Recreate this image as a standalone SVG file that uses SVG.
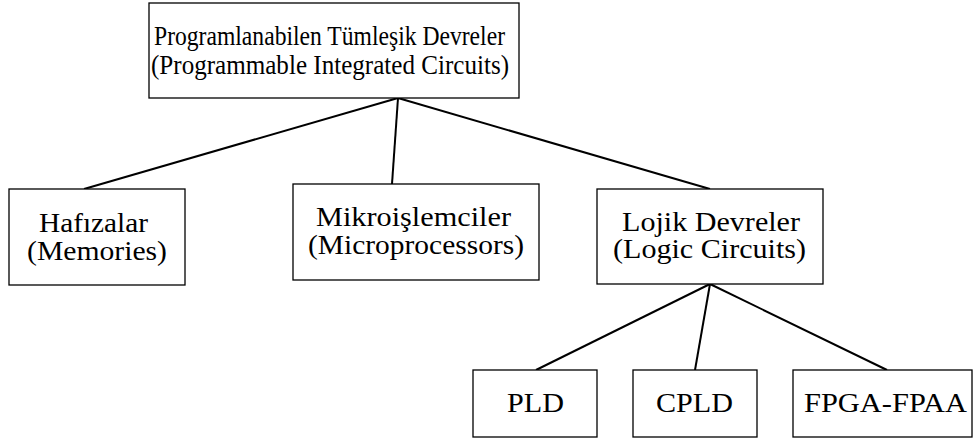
<svg xmlns="http://www.w3.org/2000/svg" width="974" height="440" viewBox="0 0 974 440">
<style>
rect{fill:#fff;stroke:#000;stroke-width:1.3}
text{font-family:'Liberation Serif','Times New Roman',serif;font-size:27px;fill:#000;text-anchor:middle}
.c line{stroke:#000;stroke-width:2}
</style>
<rect x="0" y="0" width="974" height="440" style="stroke:none"/>
<g class="c" id="connectors">
<line x1="398" y1="98" x2="84" y2="189"/>
<line x1="398" y1="98" x2="392" y2="184"/>
<line x1="398" y1="98" x2="710" y2="189"/>
<line x1="710" y1="284" x2="536" y2="370"/>
<line x1="710" y1="284" x2="695" y2="370"/>
<line x1="710" y1="284" x2="887" y2="370"/>
</g>
<g id="root"><rect x="149" y="3" width="370" height="95"/><text x="329.5" y="45" textLength="351" lengthAdjust="spacingAndGlyphs">Programlanabilen Tümleşik Devreler</text><text x="330" y="74" textLength="358" lengthAdjust="spacingAndGlyphs">(Programmable Integrated Circuits)</text></g>
<g id="memories"><rect x="9" y="189" width="176" height="96"/><text x="93.5" y="232" textLength="109" lengthAdjust="spacingAndGlyphs">Hafızalar</text><text x="97" y="260" textLength="140" lengthAdjust="spacingAndGlyphs">(Memories)</text></g>
<g id="micro"><rect x="293" y="184" width="246" height="96"/><text x="413.5" y="226" textLength="195" lengthAdjust="spacingAndGlyphs">Mikroişlemciler</text><text x="416" y="254" textLength="216" lengthAdjust="spacingAndGlyphs">(Microprocessors)</text></g>
<g id="logic"><rect x="597" y="189" width="226" height="95"/><text x="711" y="231" textLength="178" lengthAdjust="spacingAndGlyphs">Lojik Devreler</text><text x="709.5" y="258" textLength="193" lengthAdjust="spacingAndGlyphs">(Logic Circuits)</text></g>
<g id="pld"><rect x="473" y="370" width="124" height="67"/><text x="535.5" y="412" textLength="57" lengthAdjust="spacingAndGlyphs">PLD</text></g>
<g id="cpld"><rect x="633" y="370" width="124" height="67"/><text x="694.5" y="412" textLength="77" lengthAdjust="spacingAndGlyphs">CPLD</text></g>
<g id="fpga"><rect x="793" y="370" width="179" height="67"/><text x="885.5" y="412" textLength="163" lengthAdjust="spacingAndGlyphs">FPGA-FPAA</text></g>
</svg>
